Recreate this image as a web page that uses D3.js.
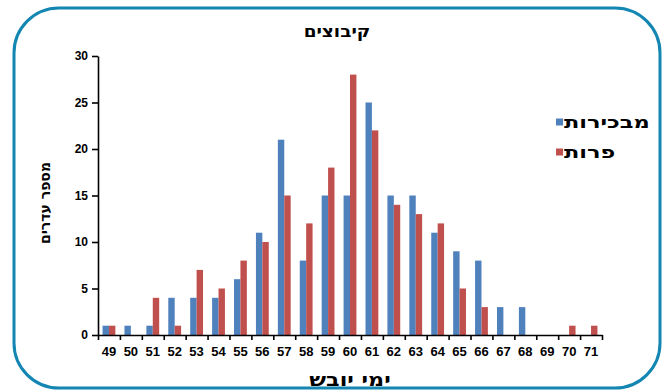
<!DOCTYPE html>
<html lang="he">
<head>
<meta charset="utf-8">
<script src="https://cdn.jsdelivr.net/npm/d3@7"></script>
<style>
  html, body { margin: 0; padding: 0; background: #fff; }
  svg { display: block; font-family: "Liberation Sans", Arial, "DejaVu Sans", sans-serif; }
  .axis path, .axis line { stroke: #000; stroke-width: 1.6; }
  .axis text { font-weight: bold; fill: #000; }
  .heb { font-family: "DejaVu Sans", "Liberation Sans", sans-serif; font-weight: bold; fill: #000; }
</style>
</head>
<body>
<svg id="chart" width="663" height="390"></svg>
<script>
// Dry days per herd, kibbutz herds: first-calvers vs. cows
const categories = ["49","50","51","52","53","54","55","56","57","58","59","60",
                    "61","62","63","64","65","66","67","68","69","70","71"];
const firstCalvers = [1,1,1,4,4,4,6,11,21,8,15,15,25,15,15,11,9,8,3,3,0,0,0];
const cows         = [1,0,4,1,7,5,8,10,15,12,18,28,22,14,13,12,5,3,0,0,0,1,1];
const seriesNames  = ["מבכירות", "פרות"];
const seriesColors = ["#4F81BD", "#C0504D"];
const yTicks = [0,5,10,15,20,25,30];

const svg = d3.select("#chart");

// rounded frame
svg.append("rect")
  .attr("x", 14).attr("y", 8)
  .attr("width", 646).attr("height", 380)
  .attr("rx", 45).attr("ry", 45)
  .attr("fill", "none")
  .attr("stroke", "#1386B2")
  .attr("stroke-width", 3);

const plot = { left: 98, right: 602, top: 56, bottom: 335 };

const x0 = d3.scaleBand()
  .domain(categories)
  .range([plot.left, plot.right])
  .paddingInner(0.415)
  .paddingOuter(0.2075);

const x1 = d3.scaleBand()
  .domain([0, 1])
  .range([0, x0.bandwidth()]);

const y = d3.scaleLinear()
  .domain([0, 30])
  .range([plot.bottom, plot.top]);

const rows = categories.map((c, i) => ({ cat: c, vals: [firstCalvers[i], cows[i]] }));

// bars
const groups = svg.append("g").selectAll("g")
  .data(rows).join("g")
  .attr("transform", d => `translate(${x0(d.cat)},0)`);

groups.selectAll("rect")
  .data(d => d.vals.map((v, k) => ({ k, v })))
  .join("rect")
  .attr("x", d => x1(d.k))
  .attr("width", x1.bandwidth())
  .attr("y", d => y(d.v))
  .attr("height", d => y(0) - y(d.v))
  .attr("fill", d => seriesColors[d.k]);

// y axis
const yAxis = svg.append("g")
  .attr("class", "axis")
  .attr("transform", `translate(${plot.left},0)`)
  .call(d3.axisLeft(y).tickValues(yTicks).tickSize(6).tickSizeOuter(0).tickPadding(4));
yAxis.selectAll("text").style("font-size", "12px");

// x axis: boundary ticks between categories
const xEdges = d3.scaleLinear().domain([0, categories.length]).range([plot.left, plot.right]);
svg.append("g")
  .attr("class", "axis")
  .attr("transform", `translate(0,${plot.bottom})`)
  .call(d3.axisBottom(xEdges).tickValues(d3.range(categories.length + 1))
        .tickFormat("").tickSize(5).tickSizeOuter(0));

// x axis: category labels
const xLab = svg.append("g")
  .attr("class", "axis")
  .attr("transform", `translate(0,${plot.bottom})`)
  .call(d3.axisBottom(x0).tickSize(0).tickPadding(12));
xLab.select("path").remove();
xLab.selectAll("text").style("font-size", "13px");

// Hebrew captions, slightly widened
function caption(x, yPos, size, sx, anchor, str, rotate) {
  const rot = rotate ? ` rotate(${rotate})` : "";
  return svg.append("text")
    .attr("class", "heb")
    .attr("transform", `translate(${x},${yPos})${rot} scale(${sx},1)`)
    .attr("text-anchor", anchor)
    .style("font-size", size + "px")
    .text(str);
}

caption(337, 37, 16, 1.15, "middle", "קיבוצים");
caption(350, 386, 19, 1.17, "middle", "ימי יובש");
caption(50, 203, 14, 1.0, "middle", "מספר עדרים", -90);

// legend
seriesNames.forEach((name, k) => {
  const ly = 122 + k * 30;
  svg.append("rect")
    .attr("x", 556).attr("y", ly - 3.5)
    .attr("width", 7).attr("height", 7)
    .attr("fill", seriesColors[k]);
  caption(564, ly + 6, 17, 1.32, "start", name);
});
</script>
</body>
</html>
